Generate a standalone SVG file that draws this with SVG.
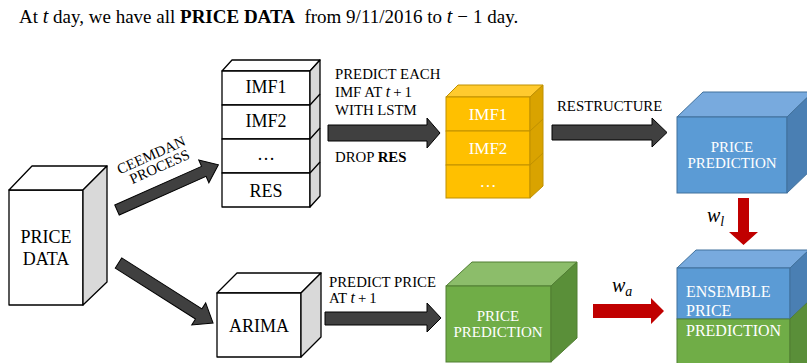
<svg xmlns="http://www.w3.org/2000/svg" width="807" height="363" viewBox="0 0 807 363">
<style>
text{font-family:"Liberation Serif","Times New Roman",serif;fill:#000}
.it{font-style:italic}
.b{font-weight:bold}
.wf{fill:#fff}
.sm{font-size:14.8px}
.k{stroke:#000;stroke-width:1.3;stroke-linejoin:round}
.wh{fill:#fff}
.gr{fill:#d9d9d9}
.o{stroke:#bf9000;stroke-width:1}
.bl{stroke:#41719c;stroke-width:1}
.gn{stroke:#507e32;stroke-width:1}
.darr{fill:#404040;stroke:#000;stroke-width:1}
.rarr{fill:#c00000}
</style>
<rect width="807" height="363" fill="#fff"/>
<text x="19" y="23" font-size="19" xml:space="preserve">At <tspan class="it" font-size="20">t</tspan> day, we have all <tspan class="b">PRICE DATA</tspan>  from 9/11/2016 to <tspan class="it" font-size="20">t</tspan><tspan dx="5">−</tspan><tspan dx="5">1</tspan> day.</text>

<g id="price-data">
<rect class="k wh" x="9" y="190" width="74" height="115"/>
<polygon class="k wh" points="9,190 32,166 107,166 83,190"/>
<polygon class="k gr" points="83,190 107,166 107,282 83,305"/>
<text x="46" y="243" font-size="18" text-anchor="middle">PRICE</text>
<text x="46" y="265" font-size="18" text-anchor="middle">DATA</text>
</g>

<g id="imf-stack">
<polygon class="k wh" points="222,71 232,60 320,60 310,71"/>
<rect class="k wh" x="222" y="71" width="88" height="34"/>
<rect class="k wh" x="222" y="105" width="88" height="34"/>
<rect class="k wh" x="222" y="139" width="88" height="34"/>
<rect class="k wh" x="222" y="173" width="88" height="34"/>
<polygon class="k gr" points="310,71 320,60 320,196 310,207"/>
<path class="k" d="M310,105L320,94M310,139L320,128M310,173L320,162" fill="none"/>
<text x="266" y="93" font-size="18" text-anchor="middle">IMF1</text>
<text x="266" y="127" font-size="18" text-anchor="middle">IMF2</text>
<text x="266" y="160" font-size="18" text-anchor="middle">…</text>
<text x="266" y="197" font-size="18" text-anchor="middle">RES</text>
</g>

<g id="imf-pred-stack">
<polygon class="o" fill="#ffca2e" points="446,97 458,85 543,85 530,97"/>
<rect class="o" fill="#ffc000" x="446" y="97" width="84" height="34"/>
<rect class="o" fill="#ffc000" x="446" y="131" width="84" height="34"/>
<rect class="o" fill="#ffc000" x="446" y="165" width="84" height="33"/>
<polygon class="o" fill="#d9a300" points="530,97 543,85 543,186 530,198"/>
<path class="o" d="M530,131L543,119M530,165L543,153" fill="none"/>
<text class="wf" x="488" y="120" font-size="17" text-anchor="middle">IMF1</text>
<text class="wf" x="488" y="154" font-size="17" text-anchor="middle">IMF2</text>
<text class="wf" x="488" y="187" font-size="17" text-anchor="middle">…</text>
</g>

<g id="lstm-price-prediction">
<polygon class="bl" fill="#78aade" points="677,117 703,92 813,92 787,117"/>
<rect class="bl" fill="#5b9bd5" x="677" y="117" width="110" height="76"/>
<polygon class="bl" fill="#4a7fb3" points="787,117 813,92 813,168 787,193"/>
<text class="wf" x="732" y="152" font-size="15" text-anchor="middle">PRICE</text>
<text class="wf" x="732" y="168" font-size="15" text-anchor="middle">PREDICTION</text>
</g>

<g id="arima">
<polygon class="k wh" points="217,293 237,273 321,273 301,293"/>
<rect class="k wh" x="217" y="293" width="84" height="64"/>
<polygon class="k gr" points="301,293 321,273 321,337 301,357"/>
<text x="259" y="332" font-size="18" text-anchor="middle">ARIMA</text>
</g>

<g id="arima-price-prediction">
<polygon class="gn" fill="#8cbd6a" points="446,286 472,262 577,262 551,286"/>
<rect class="gn" fill="#70ad47" x="446" y="286" width="105" height="76"/>
<polygon class="gn" fill="#5a8f39" points="551,286 577,262 577,338 551,362"/>
<text class="wf" x="498" y="321" font-size="15" text-anchor="middle">PRICE</text>
<text class="wf" x="498" y="337" font-size="15" text-anchor="middle">PREDICTION</text>
</g>

<g id="ensemble">
<polygon class="bl" fill="#78aade" points="677,268 696,250 809,250 790,268"/>
<rect class="bl" fill="#5b9bd5" x="677" y="268" width="113" height="51"/>
<rect class="gn" fill="#70ad47" x="677" y="319" width="113" height="52"/>
<polygon class="bl" fill="#4a7fb3" points="790,268 809,250 809,301 790,319"/>
<polygon class="gn" fill="#5a8f39" points="790,319 809,301 809,371 790,371"/>
<text class="wf" x="686" y="297" font-size="16">ENSEMBLE</text>
<text class="wf" x="686" y="316" font-size="16">PRICE</text>
<text class="wf" x="686" y="336" font-size="16">PREDICTION</text>
</g>

<g id="connectors">
<polygon class="darr" transform="translate(117,210) rotate(-24)" points="0,-5.5 95,-5.5 95,-12.5 111,0 95,12.5 95,5.5 0,5.5"/>
<polygon class="darr" transform="translate(118.5,263) rotate(32.4)" points="0,-6 95,-6 95,-13 112,0 95,13 95,6 0,6"/>
<polygon class="darr" points="328,125 427,125 427,118 440,133 427,148 427,141 328,141"/>
<polygon class="darr" points="552,125 652,125 652,118 667,132.5 652,147 652,140 552,140"/>
<polygon class="darr" points="325,312 427,312 427,303 441,318 427,332 427,325 325,325"/>
<polygon class="rarr" points="593,304 651,304 651,298 664,311 651,324 651,318 593,318"/>
<polygon class="rarr" points="738,198 749,198 749,232 758,232 743.5,245 729,232 738,232"/>
</g>

<g id="labels">
<g transform="translate(156,166) rotate(-24)">
<text class="sm" x="0" y="-7" text-anchor="middle">CEEMDAN</text>
<text class="sm" x="3" y="7" text-anchor="middle">PROCESS</text>
</g>
<text class="sm" x="335" y="79">PREDICT EACH</text>
<text class="sm" x="335" y="97" xml:space="preserve">IMF AT <tspan class="it" font-size="16">t</tspan><tspan dx="3">+</tspan><tspan dx="3">1</tspan></text>
<text class="sm" x="335" y="115">WITH LSTM</text>
<text class="sm" x="335" y="162">DROP <tspan class="b">RES</tspan></text>
<text class="sm" x="557" y="111">RESTRUCTURE</text>
<text class="sm" x="329" y="287">PREDICT PRICE</text>
<text class="sm" x="329" y="303" xml:space="preserve">AT <tspan class="it" font-size="16">t</tspan><tspan dx="3">+</tspan><tspan dx="3">1</tspan></text>
<text class="it" x="707" y="222" font-size="20">w<tspan font-size="14" dy="4">l</tspan></text>
<text class="it" x="612" y="292" font-size="20">w<tspan font-size="14" dy="4">a</tspan></text>
</g>
</svg>
